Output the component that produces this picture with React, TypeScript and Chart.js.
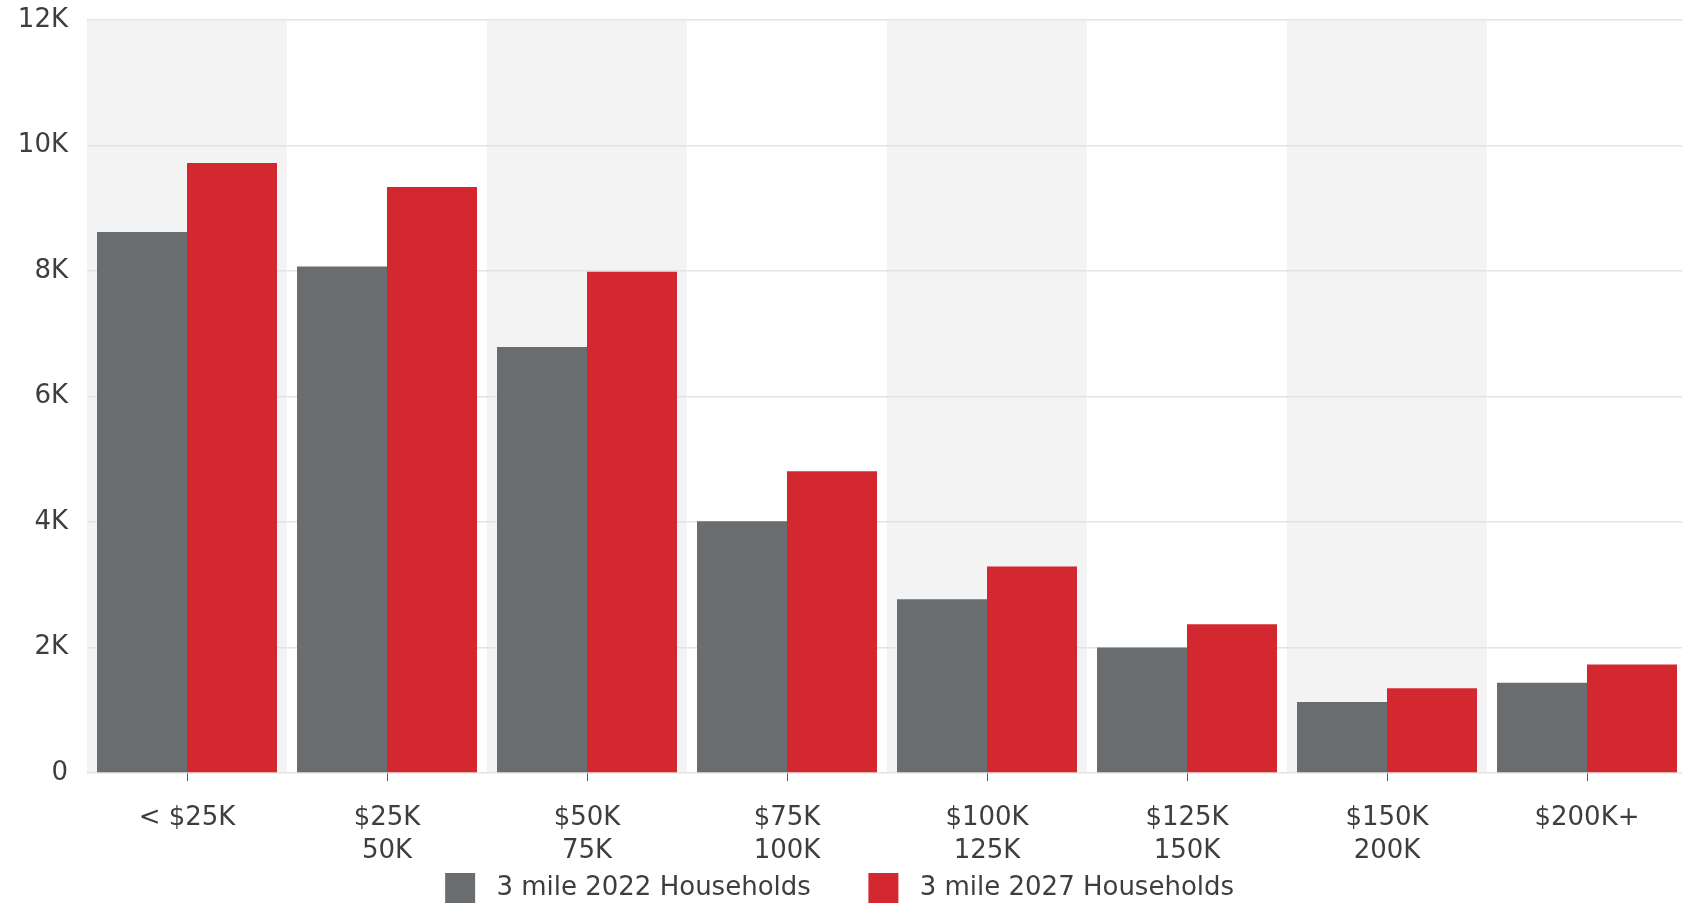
import React, { useEffect, useRef } from 'react';
import { Chart, registerables } from 'chart.js';

Chart.register(...registerables);

const categories: (string | string[])[] = [
  ['< $25K'],
  ['$25K', '50K'],
  ['$50K', '75K'],
  ['$75K', '100K'],
  ['$100K', '125K'],
  ['$125K', '150K'],
  ['$150K', '200K'],
  ['$200K+'],
];
const households2022 = [8620, 8070, 6790, 4010, 2770, 2000, 1130, 1440];
const households2027 = [9720, 9340, 7990, 4810, 3290, 2370, 1350, 1730];
const seriesNames = ['3 mile 2022 Households', '3 mile 2027 Households'];
const yMax = 12000;
const yStep = 2000;

const GRAY = '#6a6d70';
const RED = '#d3282f';
const TEXT = '#3e3e3e';
const FONT = 'DejaVu Sans';

const bandPlugin = {
  id: 'bands',
  beforeDraw(chart: any) {
    const { ctx, chartArea, scales } = chart;
    const x = scales.x;
    const n = categories.length;
    const w = (chartArea.right - chartArea.left) / n;
    ctx.save();
    ctx.fillStyle = '#f3f3f3';
    for (let i = 0; i < n; i += 2) {
      const c = x.getPixelForValue(i);
      ctx.fillRect(c - w / 2, chartArea.top, w, chartArea.bottom - chartArea.top);
    }
    ctx.restore();
  },
};

export default function App() {
  const ref = useRef<HTMLCanvasElement | null>(null);
  useEffect(() => {
    document.documentElement.style.overflow = 'hidden';
    document.body.style.overflow = 'hidden';
    document.body.style.margin = '0';
    const canvas = ref.current!;
    const chart = new Chart(canvas, {
      type: 'bar',
      data: {
        labels: categories,
        datasets: [
          {
            label: seriesNames[0],
            data: households2022,
            backgroundColor: GRAY,
            borderWidth: 0,
          },
          {
            label: seriesNames[1],
            data: households2027,
            backgroundColor: RED,
            borderWidth: 0,
          },
        ],
      },
      options: {
        responsive: false,
        animation: false,
        devicePixelRatio: 1,
        datasets: { bar: { categoryPercentage: 0.9, barPercentage: 1.0 } },
        layout: { padding: { left: 17, right: 13, top: 20, bottom: -6 } },
        font: { family: FONT },
        plugins: {
          tooltip: { enabled: false },
          legend: {
            position: 'bottom',
            labels: {
              color: TEXT,
              font: { family: FONT, size: 26 },
              boxWidth: 30,
              boxHeight: 30,
              padding: 8,
              generateLabels(chart: any) {
                const items = Chart.defaults.plugins.legend.labels.generateLabels(chart);
                items.forEach((it: any, i: number) => {
                  it.text = ' ' + it.text + (i === 0 ? '      ' : '   ');
                  it.lineWidth = 0;
                });
                return items;
              },
            },
          },
        },
        scales: {
          x: {
            afterFit(scale: any) {
              scale.height = 92;
            },
            grid: {
              offset: false,
              drawOnChartArea: false,
              drawTicks: true,
              tickLength: 8,
              color: '#555',
            },
            border: { display: false },
            ticks: {
              color: TEXT,
              font: { family: FONT, size: 26, lineHeight: 1.25 },
              padding: 21,
              maxRotation: 0,
              autoSkip: false,
            },
          },
          y: {
            min: 0,
            max: yMax,
            afterFit(scale: any) {
              scale.width = 70;
              scale.paddingTop = 0;
              scale.paddingBottom = 0;
            },
            grid: { color: '#e3e3e3', lineWidth: 1.5, drawTicks: false },
            border: { display: false },
            ticks: {
              stepSize: yStep,
              color: TEXT,
              font: { family: FONT, size: 26 },
              padding: 19,
              callback: (v: any) => (v === 0 ? '0' : `${v / 1000}K`),
            },
          },
        },
      },
      plugins: [bandPlugin],
    } as any);
    return () => chart.destroy();
  }, []);
  return (
    <div style={{ position: 'fixed', left: 0, top: 0, width: 1700, height: 907, overflow: 'hidden', background: '#fff' }}>
      <canvas ref={ref} width={1700} height={907} style={{ display: 'block' }} />
    </div>
  );
}
